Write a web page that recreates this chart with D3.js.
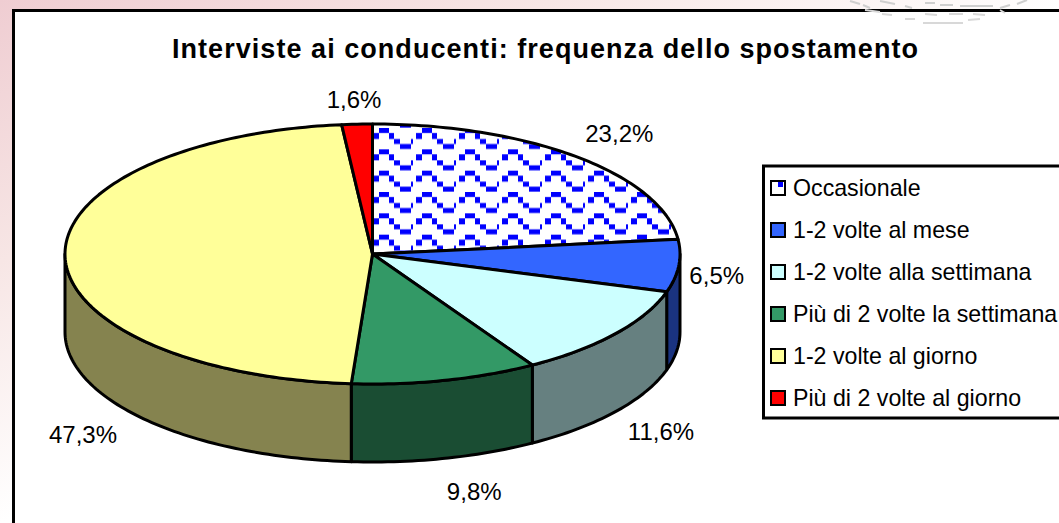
<!DOCTYPE html>
<html><head><meta charset="utf-8">
<style>html,body{margin:0;padding:0;background:#fff;overflow:hidden}svg{display:block}text{font-family:"Liberation Sans",Arial,sans-serif;fill:#000}</style>
<script src="https://cdn.jsdelivr.net/npm/d3@7"></script></head><body>
<svg id="c" width="1059" height="523"></svg>
<script>
const title = "Interviste ai conducenti: frequenza dello spostamento";
const categories = ["Occasionale","1-2 volte al mese","1-2 volte alla settimana","Più di 2 volte la settimana","1-2 volte al giorno","Più di 2 volte al giorno"];
const values = [23.2,6.5,11.6,9.8,47.3,1.6];
const labels = ["23,2%","6,5%","11,6%","9,8%","47,3%","1,6%"];
const topColors = ["url(#zig)","#3366ff","#ccffff","#339966","#ffff99","#ff0000"];
const sideColors = ["#7f7f7f","#1a3380","#668080","#1a4d33","#85834f","#800000"];
const labelOffsets = [[42,-24],[38,10],[45.5,98],[29,111],[18,178],[-3,-25]];
const zigBlocks = [[9,8,10,5],[3,13,6,6],[19,13,5,6],[24,19,6,5],[30,24,11,5],[41,19,5,5],[46,13,6,6]];
const watermark = [[850,1,860,4],[863,5,870,8],[880,1,895,4],[905,6,912,8],[925,3,935,3],[940,5,953,5],[960,6,993,6],[1000,8,1010,5],[1017,4,1027,0],
 [865,10,880,12],[882,14,892,15],[905,19,915,19],[923,23,963,23],[968,20,980,19],[925,14,937,15],[949,14,963,14],[973,14,985,15],[1000,10,1005,13]];

const W=1059,H=523, cx=372.5, cy=254, rx=307.5, ry=130, depth=78;
const svg=d3.select("#c");
const defs=svg.append("defs");
const bg=defs.append("linearGradient").attr("id","bg").attr("gradientUnits","userSpaceOnUse")
  .attr("x1",0).attr("y1",0).attr("x2",203).attr("y2",427);
bg.append("stop").attr("offset",0).attr("stop-color","#efcdd2");
bg.append("stop").attr("offset",.5).attr("stop-color","#f7e6e5");
bg.append("stop").attr("offset",1).attr("stop-color","#ffffff");
const pat=defs.append("pattern").attr("id","zig").attr("patternUnits","userSpaceOnUse")
  .attr("width",43).attr("height",64/3).attr("patternTransform","translate(370,128)");
pat.append("rect").attr("width",43).attr("height",22).attr("fill","#fff");
pat.selectAll("rect.b").data(zigBlocks).join("rect").attr("class","b")
  .attr("x",d=>d[0]).attr("y",d=>d[1]-8).attr("width",d=>d[2]).attr("height",d=>d[3]).attr("fill","#0000ff");

svg.append("rect").attr("width",W).attr("height",H).attr("fill","url(#bg)");
svg.append("g").selectAll("line").data(watermark.filter(d=>d[1]<10)).join("line")
  .attr("x1",d=>d[0]).attr("y1",d=>d[1]).attr("x2",d=>d[2]).attr("y2",d=>d[3])
  .attr("stroke","#cfcfcf").attr("stroke-width",2);
svg.append("rect").attr("x",13.5).attr("y",10.5).attr("width",W+20).attr("height",H+20)
  .attr("fill","#fff").attr("stroke","#000").attr("stroke-width",3);
svg.append("g").selectAll("line").data(watermark.filter(d=>d[1]>=10)).join("line")
  .attr("x1",d=>d[0]).attr("y1",d=>d[1]).attr("x2",d=>d[2]).attr("y2",d=>d[3])
  .attr("stroke","#d8d8d8").attr("stroke-width",2);

svg.append("text").attr("x",172).attr("y",58).attr("font-size",27).attr("font-weight",700)
  .attr("textLength",746).attr("lengthAdjust","spacing").text(title);

const pie=d3.pie().sort(null).value(d=>d).startAngle(0).endAngle(2*Math.PI);
const arcs=pie(values);
const px=a=>cx+rx*Math.sin(a), py=a=>cy-ry*Math.cos(a);
const line=d3.line();
const samples=(a0,a1)=>{const n=Math.max(2,Math.ceil((a1-a0)/0.02));return d3.range(n+1).map(i=>a0+(a1-a0)*i/n);};
const g=svg.append("g");
const fr0=Math.PI/2, fr1=3*Math.PI/2;
const front=arcs.map((d,i)=>({i,a0:Math.max(d.startAngle,fr0),a1:Math.min(d.endAngle,fr1)})).filter(d=>d.a1>d.a0);
g.selectAll("path.side").data(front).join("path").attr("class","side")
  .attr("d",d=>{const s=samples(d.a0,d.a1);
    const up=s.map(a=>[px(a),py(a)]), dn=s.slice().reverse().map(a=>[px(a),py(a)+depth]);
    return line(up.concat(dn))+"Z";})
  .attr("fill",d=>sideColors[d.i]).attr("stroke","#000").attr("stroke-width",3).attr("stroke-linejoin","round");
g.selectAll("path.top").data(arcs).join("path").attr("class","top")
  .attr("d",d=>line([[cx,cy]].concat(samples(d.startAngle,d.endAngle).map(a=>[px(a),py(a)])))+"Z")
  .attr("fill",(d,i)=>topColors[i]).attr("stroke","#000").attr("stroke-width",3).attr("stroke-linejoin","round");
svg.append("g").selectAll("text").data(arcs).join("text")
  .attr("x",(d,i)=>px((d.startAngle+d.endAngle)/2)+labelOffsets[i][0])
  .attr("y",(d,i)=>py((d.startAngle+d.endAngle)/2)+labelOffsets[i][1])
  .attr("dy",".36em").attr("text-anchor","middle").attr("font-size",24).text((d,i)=>labels[i]);
svg.append("rect").attr("x",763.5).attr("y",166).attr("width",W).attr("height",252)
  .attr("fill","#fff").attr("stroke","#000").attr("stroke-width",3);
const ly=d3.scalePoint().domain(categories).range([188,398]);
const leg=svg.append("g").selectAll("g").data(categories).join("g").attr("transform",d=>`translate(0,${ly(d)})`);
leg.append("rect").attr("x",771).attr("y",-7).attr("width",14).attr("height",14)
  .attr("fill",(d,i)=>i==0?"#fff":topColors[i]).attr("stroke","#000").attr("stroke-width",2);
leg.filter((d,i)=>i==0).append("rect").attr("x",778).attr("y",-6).attr("width",5).attr("height",5).attr("fill","#0000ff");
leg.append("text").attr("x",793).attr("dy",".36em").attr("font-size",23.2).text(d=>d);
</script></body></html>
